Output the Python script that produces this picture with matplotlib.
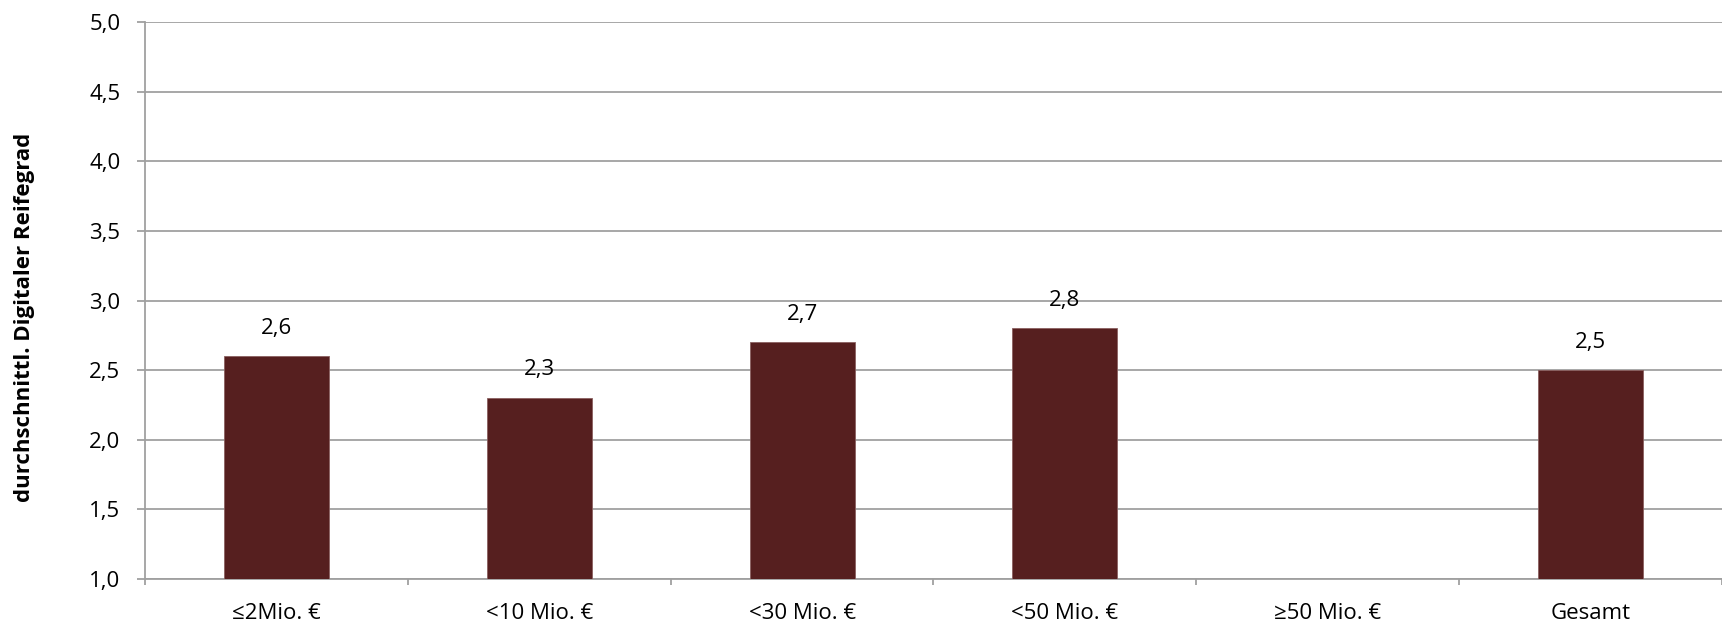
import numpy as np
import matplotlib.pyplot as plt

categories = ["≤2Mio. €", "<10 Mio. €", "<30 Mio. €", "<50 Mio. €", "≥50 Mio. €", "Gesamt"]
values = [2.6, 2.3, 2.7, 2.8, np.nan, 2.5]
y_ticks = [1.0, 1.5, 2.0, 2.5, 3.0, 3.5, 4.0, 4.5, 5.0]

plt.rcParams['font.family'] = ['Open Sans', 'DejaVu Sans']

fig = plt.figure(figsize=(17.22, 6.27), dpi=100)
ax = fig.add_axes([145 / 1722, 1 - 579 / 627, 1 - 145 / 1722, (579 - 22) / 627])

x = np.arange(len(categories))
heights = [v - 1.0 if not np.isnan(v) else 0 for v in values]
ax.bar(x, heights, bottom=1.0, width=0.40, color='#561F1F',
       edgecolor='#8a6060', linewidth=0.6, zorder=3)

for xi, v in zip(x, values):
    if np.isnan(v):
        continue
    ax.annotate(f"{v:.1f}".replace('.', ','), (xi, v), xytext=(0, 28),
                textcoords='offset pixels', ha='center', va='center', fontsize=16)

ax.set_xlim(-0.5, len(categories) - 0.5)
ax.set_ylim(1.0, 5.0)
ax.set_yticks(y_ticks)
ax.set_yticklabels([f"{t:.1f}".replace('.', ',') for t in y_ticks], fontsize=16)
ax.yaxis.grid(True, color='#a0a0a0', linewidth=1.3, zorder=0)

ax.set_xticks(x)
ax.set_xticklabels(categories, fontsize=16)
ax.set_xticks(np.arange(len(categories) + 1) - 0.5, minor=True)
ax.tick_params(axis='x', which='major', length=0, pad=17)
ax.tick_params(axis='x', which='minor', length=4.5, width=1.3, color='#a0a0a0')
ax.tick_params(axis='y', length=5.8, width=1.3, color='#a0a0a0', pad=12)

for s in ['top', 'right']:
    ax.spines[s].set_visible(False)
for s in ['left', 'bottom']:
    ax.spines[s].set_color('#a0a0a0')
    ax.spines[s].set_linewidth(1.3)

ax.set_ylabel("durchschnittl. Digitaler Reifegrad", fontsize=16, fontweight='bold')
ax.yaxis.label.set_verticalalignment('center')
ax.yaxis.set_label_coords((25 - 145) / 1577, 0.47)

fig.savefig('out.png', dpi=100)
